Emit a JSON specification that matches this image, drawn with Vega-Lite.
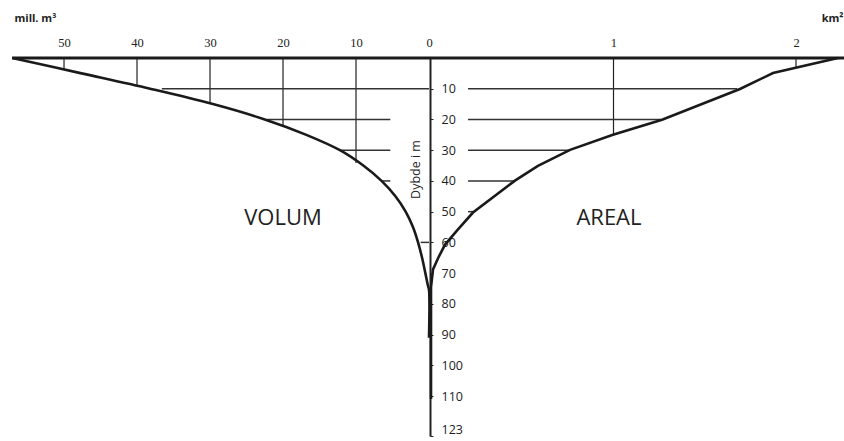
{
  "$schema": "https://vega.github.io/schema/vega-lite/v6.json",
  "width": 844,
  "height": 378,
  "autosize": "none",
  "padding": {"left": 0, "top": 58, "right": 0, "bottom": 5},
  "background": "white",
  "config": {"view": {"stroke": null}, "font": "Open Sans", "axis": {"grid": false, "labelOverlap": false, "labelFlush": false}},
  "datasets": {
    "volCurve": [
      {"d": 0, "v": 57.1}, {"d": 5, "v": 47.6}, {"d": 10, "v": 38.2}, {"d": 15, "v": 29.6},
      {"d": 20, "v": 22.5}, {"d": 25, "v": 16.8}, {"d": 30, "v": 12.2}, {"d": 35, "v": 9.0},
      {"d": 40, "v": 6.5}, {"d": 45, "v": 4.6}, {"d": 50, "v": 3.2}, {"d": 55, "v": 2.2},
      {"d": 60, "v": 1.5}, {"d": 65, "v": 0.95}, {"d": 70, "v": 0.5}, {"d": 74, "v": 0.15},
      {"d": 75.5, "v": 0}, {"d": 91, "v": 0}
    ],
    "volV": [
      {"v": 50, "d0": 0, "d": 3.7}, {"v": 40, "d0": 0, "d": 9.0}, {"v": 30, "d0": 0, "d": 14.8},
      {"v": 20, "d0": 0, "d": 22.2}, {"v": 10, "d0": 0, "d": 34.2}
    ],
    "volH": [
      {"d": 10, "v": 36.6, "v2": 0}, {"d": 20, "v": 22.2, "v2": 5.3}, {"d": 30, "v": 12.1, "v2": 5.3},
      {"d": 40, "v": 6.4, "v2": 5.3}, {"d": 60, "v": 1.14, "v2": 0}
    ],
    "volTop": [{"d": 0, "v": 57.1, "v2": -57}],
    "volLabel": [{"label": "VOLUM", "v": 20, "d": 52}],
    "areaCurve": [
      {"d": 0, "a": 2.23}, {"d": 4.9, "a": 1.874}, {"d": 10.1, "a": 1.693}, {"d": 20.1, "a": 1.266},
      {"d": 25, "a": 0.997}, {"d": 29.9, "a": 0.762}, {"d": 35.1, "a": 0.586}, {"d": 39.9, "a": 0.46},
      {"d": 50.3, "a": 0.23}, {"d": 55.8, "a": 0.148}, {"d": 60.7, "a": 0.077}, {"d": 65, "a": 0.04},
      {"d": 68.8, "a": 0.011}, {"d": 74.6, "a": 0}, {"d": 111, "a": 0}
    ],
    "areaV": [{"a": 1, "d0": 0, "d": 25}, {"a": 2, "d0": 0, "d": 3.2}],
    "areaH": [
      {"d": 10, "a": 0.203, "a2": 1.677}, {"d": 20, "a": 0.203, "a2": 1.26}, {"d": 30, "a": 0.203, "a2": 0.76},
      {"d": 40, "a": 0.203, "a2": 0.46}, {"d": 50, "a": 0.203, "a2": 0.23}
    ],
    "areaLabel": [{"label": "AREAL", "a": 0.975, "d": 52}]
  },
  "encoding": {
    "y": {
      "field": "d", "type": "quantitative",
      "scale": {"domain": [0, 123], "reverse": true, "nice": false, "zero": false},
      "axis": {
        "orient": "right", "offset": -414,
        "values": [10, 20, 30, 40, 50, 60, 70, 80, 90, 100, 110, 123], "format": "d",
        "domainColor": "#222", "domainWidth": 2, "tickColor": "#222", "tickSize": 3, "tickWidth": 1,
        "labelPadding": 8, "labelFontSize": 12.5, "labelColor": "#222", "labelFont": "Open Sans",
        "labelBaseline": {"condition": {"test": "datum.value === 123", "value": "bottom"}, "value": "middle"},
        "labelOverlap": false, "labelFlush": false, "labelBound": false,
        "title": "Dybde i m", "titleAngle": -90, "titleX": -15, "titleY": 111, "titleFontSize": 12.5,
        "titleFontWeight": "normal", "titleColor": "#222", "titleAlign": "center", "titleBaseline": "middle",
        "grid": false
      }
    }
  },
  "layer": [
    {
      "layer": [
        {
          "data": {"name": "volTop"},
          "mark": {"type": "rule", "color": "#1a1a1a", "strokeWidth": 3},
          "encoding": {
            "x": {
              "field": "v", "type": "quantitative",
              "scale": {"domain": [-56.85, 58.77], "reverse": true, "nice": false, "zero": false},
              "axis": {
                "orient": "top", "values": [0, 10, 20, 30, 40, 50], "format": "d", "ticks": false, "domain": false,
                "labelPadding": 9, "labelFont": "Liberation Serif", "labelFontSize": 12.5, "labelColor": "#222",
                "labelFlush": false, "labelOverlap": false, "grid": false,
                "title": "mill. m³", "titleX": 14, "titleY": -40, "titleAlign": "left", "titleBaseline": "middle",
                "titleFontSize": 11, "titleFontWeight": "bold", "titleColor": "#222", "titleFont": "Open Sans"
              }
            },
            "x2": {"field": "v2"}
          }
        },
        {
          "data": {"name": "volV"},
          "mark": {"type": "rule", "color": "#222", "strokeWidth": 1.2},
          "encoding": {
            "x": {"field": "v", "type": "quantitative"},
            "y2": {"field": "d0"}
          }
        },
        {
          "data": {"name": "volH"},
          "mark": {"type": "rule", "color": "#333", "strokeWidth": 1.5},
          "encoding": {
            "x": {"field": "v", "type": "quantitative"},
            "x2": {"field": "v2"}
          }
        },
        {
          "data": {"name": "volCurve"},
          "mark": {"type": "line", "color": "#1a1a1a", "strokeWidth": 2.6, "interpolate": "catmull-rom"},
          "encoding": {
            "x": {"field": "v", "type": "quantitative"},
            "order": {"field": "d", "type": "quantitative"}
          }
        },
        {
          "data": {"name": "volLabel"},
          "mark": {"type": "text", "font": "Open Sans", "fontSize": 22, "color": "#222", "align": "center", "baseline": "middle"},
          "encoding": {
            "x": {"field": "v", "type": "quantitative"},
            "text": {"field": "label", "type": "nominal"}
          }
        }
      ]
    },
    {
      "layer": [
        {
          "data": {"name": "areaV"},
          "mark": {"type": "rule", "color": "#222", "strokeWidth": 1.2},
          "encoding": {
            "x": {
              "field": "a", "type": "quantitative",
              "scale": {"domain": [-2.3616, 2.263], "nice": false, "zero": false},
              "axis": {
                "orient": "top", "values": [1, 2], "format": "d", "ticks": false, "domain": false,
                "labelPadding": 9, "labelFont": "Liberation Serif", "labelFontSize": 12.5, "labelColor": "#222",
                "labelFlush": false, "labelOverlap": false, "grid": false,
                "title": "km²", "titleX": 843, "titleY": -40, "titleAlign": "right", "titleBaseline": "middle",
                "titleFontSize": 11, "titleFontWeight": "bold", "titleColor": "#222", "titleFont": "Open Sans"
              }
            },
            "y2": {"field": "d0"}
          }
        },
        {
          "data": {"name": "areaH"},
          "mark": {"type": "rule", "color": "#333", "strokeWidth": 1.5},
          "encoding": {
            "x": {"field": "a", "type": "quantitative"},
            "x2": {"field": "a2"}
          }
        },
        {
          "data": {"name": "areaCurve"},
          "mark": {"type": "line", "color": "#1a1a1a", "strokeWidth": 2.6},
          "encoding": {
            "x": {"field": "a", "type": "quantitative"},
            "order": {"field": "d", "type": "quantitative"}
          }
        },
        {
          "data": {"name": "areaLabel"},
          "mark": {"type": "text", "font": "Open Sans", "fontSize": 22, "color": "#222", "align": "center", "baseline": "middle"},
          "encoding": {
            "x": {"field": "a", "type": "quantitative"},
            "text": {"field": "label", "type": "nominal"}
          }
        }
      ]
    }
  ],
  "resolve": {"scale": {"x": "independent"}, "axis": {"x": "independent"}}
}
